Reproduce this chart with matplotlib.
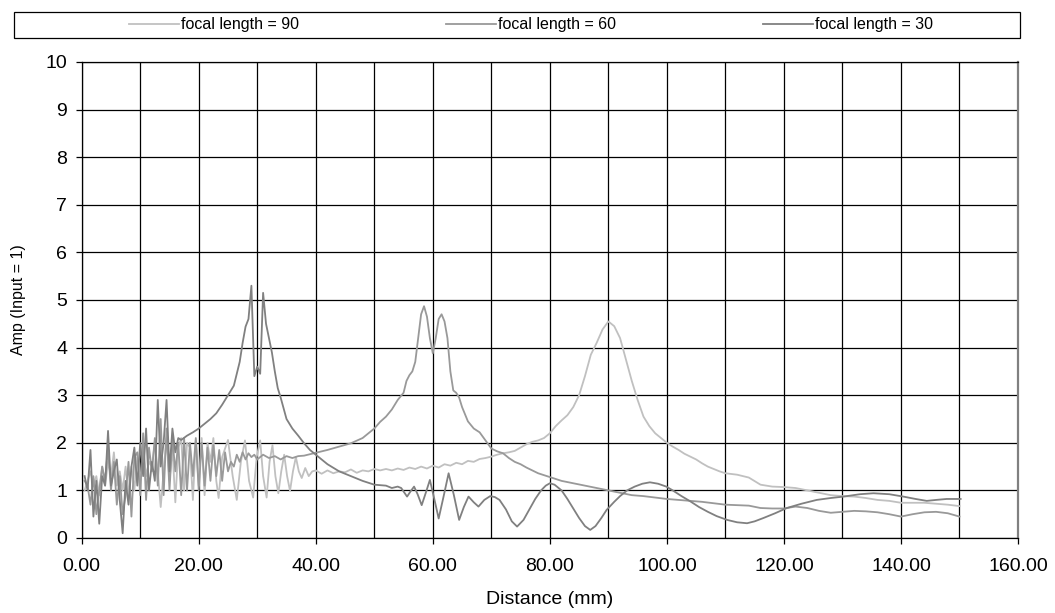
import matplotlib
matplotlib.use("Agg")
import matplotlib.pyplot as plt
from matplotlib.ticker import MultipleLocator, FormatStrFormatter
from matplotlib.patches import Rectangle

plt.rcParams['font.family'] = ['Liberation Sans', 'DejaVu Sans']

# ---- data ----
x90 = [0.5,1,1.5,2,2.5,3,3.5,4,4.5,5,5.5,6,6.5,7,7.5,8,8.5,9,9.5,10,10.5,11,11.5,12,12.5,13,13.5,14,14.5,15,
       15.5,16,16.5,17,17.5,18,18.5,19,19.5,20,20.5,21,21.5,22,22.5,23,23.4,24,25,25.8,26.5,27.2,27.9,28.6,29.3,
       29.9,30.5,31,31.6,32.1,32.6,33.1,33.6,34.1,34.6,35.1,35.6,36.1,36.6,37.1,37.6,38.2,38.8,39.4,40,41,42,43,
       44,45,46,47,48,49,50,51,52,53,54,55,56,57,58,59,60,61,62,63,64,65,66,67,68,69,70,71,72,73,74,75,76,77,78,
       79,80,81,82,83,84,85,86,87,88,89,90,91,92,93,94,95,96,97,98,99,100,101,102,103,104,105,106,107,108,109,110,
       112,114,116,118,120,122,124,126,128,130,132,134,136,138,140,142,144,146,148,150]
y90 = [1.0,1.2,1.4,1.1,1.3,0.9,1.5,1.1,1.6,1.3,1.8,1.1,1.4,1.0,1.5,0.9,1.5,1.0,1.7,1.2,1.9,1.3,1.6,1.5,2.0,1.4,
       0.65,1.4,2.1,1.2,1.9,0.75,1.9,2.1,1.0,2.0,1.9,0.8,2.05,1.1,2.1,0.9,2.0,1.6,2.1,1.2,0.84,1.7,2.06,1.3,0.8,
       1.6,2.05,1.2,0.85,1.7,2.05,1.3,0.85,1.6,1.95,1.3,0.94,1.4,1.75,1.3,0.99,1.4,1.7,1.4,1.26,1.47,1.3,1.4,1.42,
       1.35,1.42,1.36,1.4,1.38,1.44,1.37,1.42,1.4,1.45,1.42,1.45,1.42,1.46,1.43,1.48,1.45,1.5,1.46,1.52,1.48,1.55,
       1.52,1.58,1.55,1.62,1.6,1.66,1.68,1.71,1.75,1.78,1.8,1.83,1.9,1.97,2.02,2.05,2.1,2.2,2.35,2.47,2.58,2.75,
       3.0,3.4,3.85,4.1,4.38,4.55,4.45,4.2,3.75,3.3,2.9,2.55,2.35,2.2,2.1,2.0,1.92,1.85,1.77,1.71,1.65,1.57,1.5,
       1.45,1.4,1.36,1.33,1.27,1.12,1.08,1.07,1.05,1.0,0.95,0.9,0.88,0.87,0.84,0.8,0.78,0.74,0.74,0.74,0.72,0.7,0.67]

x60 = [0.5,1,1.5,2,2.5,3,3.5,4,4.5,5,5.5,6,6.5,7,7.5,8,8.5,9,9.5,10,10.5,11,11.5,12,12.5,13,13.5,14,14.5,15,
       15.5,16,16.5,17,17.5,18,18.5,19,19.5,20,20.5,21,21.5,22,22.5,23,23.5,24,24.5,25,25.5,26,26.5,27,27.5,28,
       28.5,29,29.5,30,31,32,33,34,35,36,37,38,39,40,42,44,46,48,50,51,52,53,54,55,55.5,56,56.5,57,57.5,58,58.5,
       59,59.5,60,60.5,61,61.5,62,62.5,63,63.5,64,64.5,65,66,67,68,69,70,71,72,73,74,75,76,77,78,79,80,82,84,86,
       88,90,92,94,96,98,100,102,104,106,108,110,112,114,116,118,120,122,124,126,128,130,132,134,136,138,140,142,
       144,146,148,150]
y60 = [1.2,1.1,0.7,1.3,0.5,1.0,1.5,1.2,1.9,1.0,1.6,0.7,1.3,0.5,0.9,1.6,0.45,1.7,1.8,0.9,2.2,0.8,1.9,1.4,2.1,1.1,
       2.5,0.9,2.3,1.0,2.1,1.4,2.0,0.9,2.1,1.0,2.0,1.3,2.1,1.0,2.0,1.1,1.9,1.2,1.95,1.3,1.85,1.2,1.8,1.4,1.6,1.5,
       1.75,1.6,1.8,1.65,1.78,1.7,1.75,1.65,1.75,1.68,1.72,1.65,1.72,1.68,1.72,1.73,1.76,1.79,1.85,1.92,1.99,2.1,
       2.3,2.44,2.55,2.7,2.9,3.05,3.3,3.42,3.5,3.7,4.2,4.7,4.87,4.65,4.2,3.88,4.2,4.6,4.7,4.55,4.2,3.5,3.1,3.05,
       2.95,2.75,2.45,2.3,2.22,2.05,1.88,1.82,1.78,1.68,1.6,1.55,1.48,1.42,1.36,1.32,1.28,1.2,1.15,1.1,1.05,1.0,
       0.95,0.9,0.88,0.85,0.82,0.8,0.78,0.76,0.73,0.7,0.69,0.68,0.63,0.62,0.62,0.66,0.63,0.57,0.53,0.55,0.57,0.56,
       0.54,0.5,0.45,0.5,0.54,0.55,0.52,0.45]

x30 = [0.5,1,1.5,2,2.5,3,3.5,4,4.5,5,5.5,6,6.5,7,7.5,8,8.5,9,9.5,10,10.5,11,11.5,12,12.5,13,13.5,14,14.5,15,
       15.5,16,16.5,17,18,19,20,21,22,23,24,25,26,27,27.5,28,28.5,29,29.5,30,30.5,31,31.5,32,32.5,33,33.5,34,35,
       36,37,38,39,40,42,44,46,48,50,52,53,54,54.6,55.6,56.2,56.8,57.4,58.1,58.8,59.5,60.2,61,61.8,62.7,63.6,64.5,
       65.3,66.1,67,67.8,68.8,69.8,70.6,71.4,72.5,73.5,74.4,75.5,76.5,77.5,78.5,79.3,80,80.8,82,83,84,85,86,86.9,
       87.8,88.8,89.7,91,92,93.2,94.5,95.8,97.1,98.5,99.9,101,102.5,104,105.5,107,108.5,110.3,112,113.7,115,116.5,
       118.5,120.5,123,125.6,128,130.2,133,135.3,138,140.4,142.5,144.4,146,147.8,150.2]
y30 = [1.3,1.0,1.85,0.45,1.2,0.3,1.3,1.1,2.25,1.1,1.4,1.65,0.8,0.1,1.2,0.7,1.5,1.9,1.1,2.0,1.3,2.3,1.0,1.6,1.2,
       2.9,1.5,2.0,2.9,1.4,2.3,1.8,2.1,2.06,2.15,2.22,2.3,2.4,2.5,2.62,2.8,3.0,3.2,3.7,4.1,4.44,4.6,5.3,3.4,3.6,
       3.45,5.15,4.5,4.2,3.9,3.5,3.15,2.95,2.5,2.3,2.15,1.99,1.85,1.75,1.55,1.4,1.3,1.2,1.12,1.1,1.05,1.08,1.05,
       0.87,0.98,1.08,0.92,0.69,0.95,1.22,0.85,0.41,0.85,1.36,0.9,0.38,0.65,0.87,0.75,0.66,0.8,0.88,0.86,0.8,0.6,
       0.35,0.24,0.38,0.6,0.82,1.0,1.1,1.15,1.12,1.0,0.82,0.62,0.42,0.25,0.17,0.25,0.42,0.59,0.76,0.88,1.0,1.08,
       1.14,1.17,1.14,1.08,1.0,0.88,0.77,0.65,0.55,0.46,0.38,0.33,0.31,0.35,0.42,0.52,0.63,0.72,0.8,0.84,0.87,
       0.92,0.94,0.92,0.87,0.82,0.78,0.8,0.82,0.82]

series = [("focal length = 90", x90, y90, "#c0c0c0"),
          ("focal length = 60", x60, y60, "#999999"),
          ("focal length = 30", x30, y30, "#808080")]

# ---- figure ----
W, H = 1055, 613
fig = plt.figure(figsize=(W / 100, H / 100), dpi=100)
ax = fig.add_axes([81.7 / W, 1 - 538 / H, (1018 - 81.7) / W, (538 - 62) / H])

handles = []
for label, xs, ys, col in series:
    h, = ax.plot(xs, ys, color=col, lw=1.3, label=label)
    handles.append(h)

ax.set_xlim(0, 160)
ax.set_ylim(0, 10)
ax.xaxis.set_major_locator(MultipleLocator(20))
ax.xaxis.set_minor_locator(MultipleLocator(10))
ax.xaxis.set_major_formatter(FormatStrFormatter('%.2f'))
ax.yaxis.set_major_locator(MultipleLocator(1))
ax.grid(True, which='both', color='#000000', lw=0.9)
ax.set_axisbelow(True)
ax.tick_params(axis='x', which='minor', length=0)
ax.tick_params(axis='both', which='major', length=4.5, width=0.9, labelsize=14, direction='out')
ax.tick_params(axis='x', which='major', pad=10)
ax.tick_params(axis='y', which='major', pad=6)
for s in ax.spines.values():
    s.set_color('#000000')
    s.set_linewidth(0.9)
ax.spines['right'].set_color('#808080')
ax.spines['right'].set_linewidth(1.6)

ax.set_xlabel("Distance (mm)", fontsize=14)
ax.xaxis.label.set_va('center')
ax.xaxis.set_label_coords((549.5 - 81.7) / (1018 - 81.7), (538 - 599) / (538 - 62))
ax.set_ylabel("Amp (Input = 1)", fontsize=11.5)
ax.yaxis.label.set_va('center')
ax.yaxis.set_label_coords((19 - 81.7) / (1018 - 81.7), 0.5)

# legend box
fig.patches.append(Rectangle((14 / W, 1 - 38 / H), (1020 - 14) / W, 26 / H,
                             transform=fig.transFigure, fill=False,
                             edgecolor='#000000', lw=0.9))
leg = fig.legend(handles=handles, loc='center', ncol=3,
                 bbox_to_anchor=(531 / W, 1 - 25 / H),
                 fontsize=11.5, frameon=False, handlelength=3.1,
                 handletextpad=0.12, columnspacing=9.25, borderaxespad=0)

fig.savefig("out.png", dpi=100)
